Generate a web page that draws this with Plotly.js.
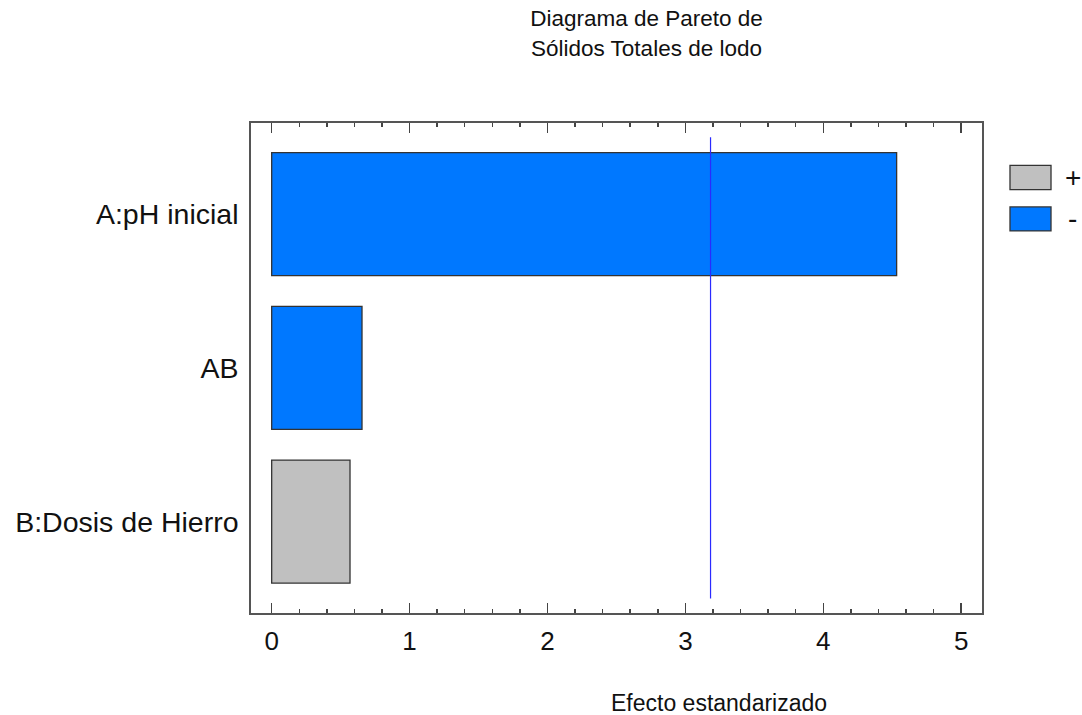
<!DOCTYPE html>
<html>
<head>
<meta charset="utf-8">
<script src="https://cdn.plot.ly/plotly-3.0.1.min.js"></script>
<style>
  html, body { margin: 0; padding: 0; background: #fff; }
  #chart { width: 1082px; height: 715px; }
</style>
</head>
<body>
<div id="chart"></div>
<script>
// Pareto chart of standardized effects (sorted, largest first)
const factores = ['A:pH inicial', 'AB', 'B:Dosis de Hierro'];
const efectos = [-4.532, -0.655, 0.568];      // signed standardized effects
const valorCritico = 3.18245;                  // t critical value (alpha = 0.05)
const etiquetasSigno = ['+', '-'];
const ticksX = [0, 1, 2, 3, 4, 5];

const colorPos = '#c0c0c0';
const colorNeg = '#0078ff';
const fuente = 'Liberation Sans, Arial, sans-serif';

const magnitudes = efectos.map(Math.abs);
const colores = efectos.map(v => v >= 0 ? colorPos : colorNeg);

const trace = {
  type: 'bar',
  orientation: 'h',
  x: magnitudes,
  y: factores,
  width: 0.8,
  marker: { color: colores, line: { color: '#333333', width: 1.3 } },
  showlegend: false,
  hoverinfo: 'x+y'
};

// manual legend: swatch + label for each sign
const legendColors = [colorPos, colorNeg];
const legY = [[0.8642, 0.9137], [0.7797, 0.8287]];
const shapes = [
  {
    type: 'line', xref: 'x', yref: 'y',
    x0: valorCritico, x1: valorCritico, y0: -0.5, y1: factores.length - 0.5,
    line: { color: '#2a2aff', width: 1.2 }
  }
];
const annotations = [
  {
    text: 'Efecto estandarizado', xref: 'paper', yref: 'paper',
    x: 0.640, y: -0.184, xanchor: 'center', yanchor: 'middle',
    showarrow: false, font: { family: fuente, size: 23, color: '#111' }
  }
];
etiquetasSigno.forEach((s, i) => {
  shapes.push({
    type: 'rect', xref: 'paper', yref: 'paper',
    x0: 1.0383, x1: 1.0944, y0: legY[i][0], y1: legY[i][1],
    fillcolor: legendColors[i], line: { color: '#333333', width: 1.3 }
  });
  annotations.push({
    text: s, xref: 'paper', yref: 'paper',
    x: 1.124, y: (legY[i][0] + legY[i][1]) / 2, xanchor: 'center', yanchor: 'middle',
    showarrow: false, font: { family: fuente, size: 28, color: '#111' }
  });
});

const layout = {
  width: 1082, height: 715,
  margin: { l: 251, r: 100, t: 123, b: 102 },
  paper_bgcolor: '#ffffff', plot_bgcolor: '#ffffff',
  font: { family: fuente, color: '#111' },
  title: {
    text: 'Diagrama de Pareto de<br>Sólidos Totales de lodo',
    xref: 'paper', x: 0.541, xanchor: 'center',
    yref: 'container', y: 0.963, yanchor: 'top',
    font: { family: fuente, size: 22.5, color: '#111' }
  },
  xaxis: {
    range: [-0.15, 5.151],
    tickvals: ticksX,
    ticks: 'inside', ticklen: 10, tickwidth: 1.5, tickcolor: '#444',
    minor: { dtick: 0.2, tick0: 0, ticks: 'inside', ticklen: 4, tickwidth: 1.5, tickcolor: '#444', showgrid: false },
    showline: true, linecolor: '#555', linewidth: 1.8, mirror: 'allticks',
    showgrid: false, zeroline: false,
    tickfont: { family: fuente, size: 26, color: '#111' },
    ticklabelstandoff: 4
  },
  yaxis: {
    type: 'category',
    categoryorder: 'array', categoryarray: factores,
    range: [2.595, -0.593],
    ticks: '', showline: true, linecolor: '#555', linewidth: 1.8, mirror: true,
    showgrid: false, zeroline: false,
    tickfont: { family: fuente, size: 28.5, color: '#111' },
    ticklabelstandoff: 5
  },
  shapes: shapes,
  annotations: annotations,
  bargap: 0.2
};

Plotly.newPlot('chart', [trace], layout, { displayModeBar: false, staticPlot: true });
</script>
</body>
</html>
